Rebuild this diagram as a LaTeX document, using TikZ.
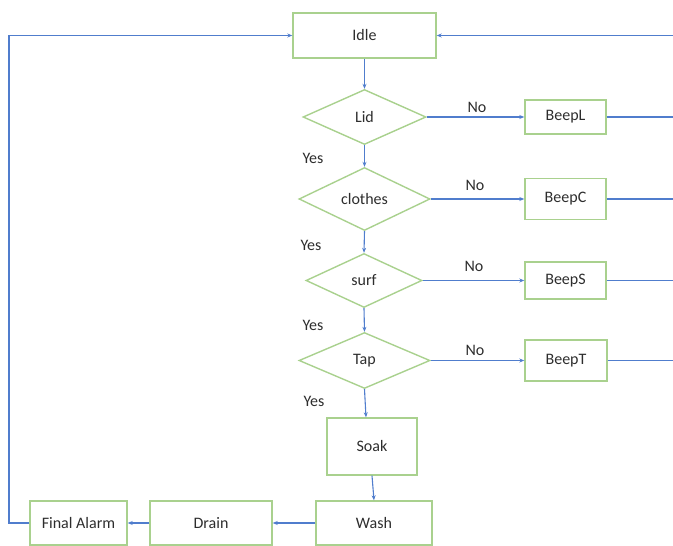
\documentclass[tikz,border=0pt]{standalone}
\usepackage{fontspec}
\setmainfont{Carlito}
\usetikzlibrary{shapes.geometric,arrows.meta}
\definecolor{boxgreen}{RGB}{169,209,142}
\definecolor{flowblue}{RGB}{80,125,205}
\definecolor{txt}{RGB}{45,45,45}
\begin{document}
\begin{tikzpicture}[x=1pt,y=-1pt,
  every node/.style={font=\fontsize{16}{19}\selectfont, text=txt},
  box/.style={draw=boxgreen, line width=1.4pt, rectangle, inner sep=0pt},
  decision/.style={draw=boxgreen, line width=1.4pt, diamond, aspect=2, inner sep=0pt},
  flow/.style={draw=flowblue, line width=1.1pt, -{Stealth[length=5pt,width=4pt]}},
  plain/.style={draw=flowblue, line width=1.1pt},
  lbl/.style={inner sep=0pt}]
\useasboundingbox (0,0) rectangle (673,546);

% process boxes
\node[box, minimum width=143pt, minimum height=45pt] (idle) at (364.5,35.5) {Idle};
\node[box, minimum width=81pt, minimum height=34pt] (beepL) at (565.5,117) {BeepL};
\node[box, minimum width=81pt, minimum height=41pt] (beepC) at (565.5,199) {BeepC};
\node[box, minimum width=81pt, minimum height=37pt] (beepS) at (565.5,280.5) {BeepS};
\node[box, minimum width=82pt, minimum height=41pt] (beepT) at (566,360.5) {BeepT};
\node[box, minimum width=90pt, minimum height=57pt] (soak) at (372,446.5) {Soak};
\node[box, minimum width=116pt, minimum height=44pt] (wash) at (374,523) {Wash};
\node[box, minimum width=122pt, minimum height=44pt] (drain) at (211,523) {Drain};
\node[box, minimum width=97pt, minimum height=44pt] (alarm) at (78.5,523) {Final Alarm};

% decisions
\node[decision, minimum width=123pt, minimum height=55pt] (lid) at (364.5,117) {Lid};
\node[decision, minimum width=131pt, minimum height=63pt] (clothes) at (364.5,199) {clothes};
\node[decision, minimum width=116pt, minimum height=54pt] (surf) at (364,280.5) {surf};
\node[decision, minimum width=131pt, minimum height=56pt] (tap) at (364.5,360.5) {Tap};

% free ends at the right and left margins
\coordinate (rIdle) at (673,35.5);
\coordinate (rL) at (673,117);
\coordinate (rC) at (673,199);
\coordinate (rS) at (673,280.5);
\coordinate (rT) at (673,360.5);
\coordinate (lTop) at (9,35.5);
\coordinate (lBot) at (9,523);

% main chain
\draw[flow] (idle.south) -- (lid.north);
\draw[flow] (lid.south) -- (clothes.north);
\draw[flow] (clothes.south) -- (surf.north);
\draw[flow] (surf.south) -- (tap.north);
\draw[flow] (tap.south) -- ([xshift=-6pt]soak.north);
\draw[flow] (soak.south) -- (wash.north);
\draw[flow] (wash.west) -- (drain.east);
\draw[flow] (drain.west) -- (alarm.east);
\draw[flow] (alarm.west) -- (lBot) -- (lTop) -- (idle.west);

% "No" branches
\draw[flow] (lid.east) -- (beepL.west);
\draw[flow] (clothes.east) -- (beepC.west);
\draw[flow] (surf.east) -- (beepS.west);
\draw[flow] (tap.east) -- (beepT.west);
\draw[plain] (beepL.east) -- (rL);
\draw[plain] (beepC.east) -- (rC);
\draw[plain] (beepS.east) -- (rS);
\draw[plain] (beepT.east) -- (rT);
\draw[flow] (rIdle) -- (idle.east);

% branch labels
\node[lbl] (no1) at (477,107) {No};
\node[lbl] (no2) at (475,185) {No};
\node[lbl] (no3) at (474,266) {No};
\node[lbl] (no4) at (475,350) {No};
\node[lbl] (yes1) at (313,158) {Yes};
\node[lbl] (yes2) at (311,245) {Yes};
\node[lbl] (yes3) at (313,325) {Yes};
\node[lbl] (yes4) at (314,401) {Yes};
\end{tikzpicture}
\end{document}
